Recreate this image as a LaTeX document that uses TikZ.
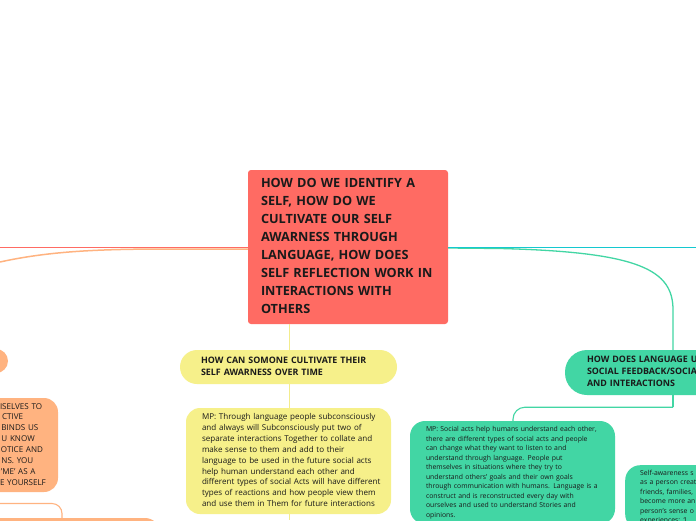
\documentclass[tikz,border=0pt]{standalone}
\usepackage{fontspec}
\setmainfont{Open Sans}
\usetikzlibrary{calc}
\definecolor{cred}{HTML}{FF6B63}
\definecolor{cyel}{HTML}{F6F08A}
\definecolor{cyelline}{HTML}{F3EC8C}
\definecolor{cgreen}{HTML}{42D6A4}
\definecolor{corange}{HTML}{FFB380}
\definecolor{ccyan}{HTML}{14C8D0}
\definecolor{ctext}{HTML}{1A1A1A}
\tikzset{
  mbox/.style={draw=none, align=left, text=ctext, inner ysep=0pt},
  centralbox/.style={mbox, fill=cred, rounded corners=3pt, minimum width=200pt, minimum height=154pt,
    text width=174pt, inner xsep=13pt, font=\bfseries\fontsize{12.7}{18}\selectfont},
  headbox/.style={mbox, font=\bfseries\fontsize{8.9}{12}\selectfont},
  bodybox/.style={mbox, font=\fontsize{8.05}{10.9}\selectfont},
  smallbox/.style={mbox, font=\fontsize{6.85}{9.5}\selectfont},
  link/.style={line width=1.5pt},
}
\begin{document}
\begin{tikzpicture}[x=1pt,y=-1pt]
\useasboundingbox (0,0) rectangle (696,520);
\clip (0,0) rectangle (696,520);
\fill[white] (0,0) rectangle (696,520);

% central
\node[centralbox] (c) at (348,247) {\begin{tabular}{@{}l@{}}HOW DO WE IDENTIFY A\\SELF, HOW DO WE\\CULTIVATE OUR SELF\\AWARNESS THROUGH\\LANGUAGE, HOW DOES\\SELF REFLECTION WORK IN\\INTERACTIONS WITH\\OTHERS\end{tabular}};

% yellow branch
\node[headbox, fill=cyel, rounded corners=17pt, minimum width=217pt, minimum height=34pt, text width=175pt, inner xsep=21pt] (yh) at (288.5,367) {\begin{tabular}{@{}l@{}}HOW CAN SOMONE CULTIVATE THEIR\\SELF AWARNESS OVER TIME\end{tabular}};
\node[bodybox, fill=cyel, rounded corners=14pt, minimum width=205pt, minimum height=106pt, text width=173pt, inner xsep=16pt] (ym) at (288.5,461) {\begin{tabular}{@{}l@{}}MP: Through language people subconsciously\\and always will Subconsciously put two of\\separate interactions Together to collate and\\make sense to them and add to their\\language to be used in the future social acts\\help human understand each other and\\different types of social Acts will have different\\types of reactions and how people view them\\and use them in Them for future interactions\end{tabular}};

% green branch
\node[headbox, fill=cgreen, rounded corners=22pt, minimum width=235pt, minimum height=45pt, text width=191pt, inner xsep=22pt] (gh) at (682.5,372.5) {\begin{tabular}{@{}l@{}}HOW DOES LANGUAGE U\\SOCIAL FEEDBACK/SOCIA\\AND INTERACTIONS\end{tabular}};
\node[smallbox, fill=cgreen, rounded corners=15pt, minimum width=205pt, minimum height=103pt, text width=173pt, inner xsep=16pt] (gm) at (512.5,472.5) {\begin{tabular}{@{}l@{}}MP: Social acts help humans understand each other,\\there are different types of social acts and people\\can change what they want to listen to and\\understand through language. People put\\themselves in situations where they try to\\understand others’ goals and their own goals\\through communication with humans. Language is a\\construct and is reconstructed every day with\\ourselves and used to understand Stories and\\opinions.\end{tabular}};
\node[smallbox, fill=cgreen, rounded corners=15pt, anchor=north west, minimum width=205pt, text width=175pt, inner xsep=15pt, inner ysep=3.5pt] (g2) at (625,465) {\begin{tabular}{@{}l@{}}Self-awareness s\\as a person creat\\friends, families,\\become more an\\person’s sense o\\experiences: ‘I\end{tabular}};

% orange branch
\node[bodybox, fill=corange, rounded corners=12pt, minimum width=60pt, minimum height=24pt] (os) at (-22,361) {};
\node[bodybox, fill=corange, rounded corners=14pt, minimum width=98pt, minimum height=94pt, text width=18pt, inner xsep=40pt] (om) at (9,445) {\begin{tabular}{@{}l@{}}ISELVES TO\\\hspace{2pt}CTIVE\\\hspace{1.5pt}BINDS US\\\hspace{1.5pt}U KNOW\\\hspace{1pt}OTICE AND\\\hspace{1.5pt}NS. YOU\\\hspace{1pt}’ME’ AS A\\E YOURSELF\end{tabular}};
\node[bodybox, fill=corange, rounded corners=15pt, minimum width=210pt, minimum height=40pt] (ob) at (55,538) {};

% helper coordinates
\coordinate (lw) at (0,247.5);
\coordinate (lo) at (0,262);
\coordinate (re) at (696,247.5);
\coordinate (gx) at (673,0);
\coordinate (gmx) at (513,0);
\coordinate (yx) at (289,0);
\coordinate (yend) at (289,520);
\coordinate (ol) at (0,503.5);
\coordinate (obx) at (62,0);

% connectors
\draw[link, corange] (lo) .. controls (50,251) and (100,249) .. (170,249) -- ($(c.west)+(0,2)$);
\draw[link, cred] (lw) -- ($(c.west)+(0,0.5)$);
\draw[line width=1.3pt, cgreen] ($(c.east)+(0,1)$) -- (500,248.5) .. controls (640,252) and (673,270) .. (673,310) -- (gx |- gh.north);
\draw[link, ccyan] ($(c.east)+(0,0.5)$) -- (re);
\draw[line width=1.1pt, cgreen] (gx |- gh.south) -- ++(0,12) coordinate (gj);
\draw[line width=1.1pt, cgreen, rounded corners=12pt] (gj) -| (gmx |- gm.north);
\draw[line width=1pt, cyelline] (yx |- c.south) -- (yx |- yh.north);
\draw[line width=1pt, cyelline] (yx |- yh.south) -- (yx |- ym.north);
\draw[line width=1pt, cyelline] (yx |- ym.south) -- (yend);
\draw[line width=1.1pt, corange, rounded corners=10pt] (ol) -| (obx |- ob.north);
\end{tikzpicture}
\end{document}
